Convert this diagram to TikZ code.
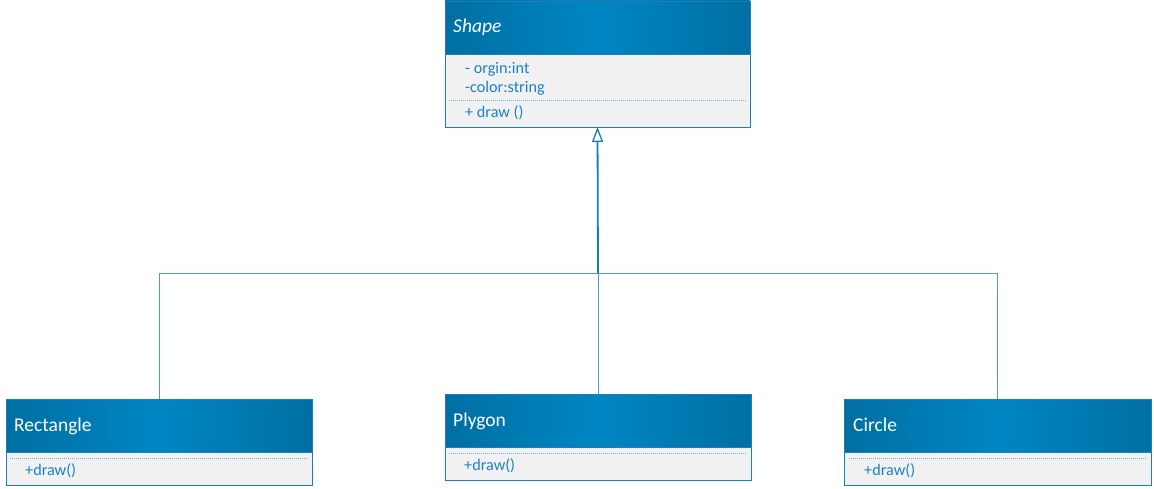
\documentclass[tikz,border=0pt]{standalone}
\usepackage{fontspec}
\setmainfont{Carlito}
\usetikzlibrary{arrows.meta}
\definecolor{hdark}{HTML}{006FA3}
\definecolor{hmid}{HTML}{0086C2}
\definecolor{boxline}{HTML}{1E7FB8}
\definecolor{bodyfill}{HTML}{F1F1F1}
\definecolor{btxt}{HTML}{1A82C4}
\definecolor{sepc}{HTML}{6FB3DA}
\definecolor{conn}{HTML}{1A7DAE}
\definecolor{connl}{HTML}{4C9FCB}
\tikzset{
  hdr/.style={draw=boxline, line width=0.8pt, left color=hdark, right color=hdark, middle color=hmid, anchor=north west, inner sep=0pt, outer sep=0pt},
  bdy/.style={draw=boxline, line width=0.8pt, fill=bodyfill, anchor=north west, inner sep=0pt, outer sep=0pt},
  htext/.style={text=white, font=\fontsize{19.5}{23}\selectfont, anchor=base west, inner sep=0pt},
  btext/.style={text=btxt, font=\fontsize{16.2}{19}\selectfont, anchor=base west, inner sep=0pt},
  sepline/.style={draw=sepc, line width=0.8pt, dash pattern=on 1pt off 1pt},
  conline/.style={draw=connl, line width=1pt},
  trunk/.style={draw=conn, line width=1.8pt}
}
\begin{document}
\begin{tikzpicture}[x=1pt,y=-1pt]
\useasboundingbox (0,0) rectangle (1154,489);
% Shape
\node[bdy, minimum width=305pt, minimum height=73pt] (shapeB) at (445,54) {};
\node[hdr, minimum width=305pt, minimum height=53pt] (shapeH) at (445,1) {};
\node[htext, font=\fontsize{19.5}{23}\selectfont\itshape] (shapeT) at (453,33) {Shape};
\node[btext] (shapeA1) at (465,74) {- orgin:int};
\node[btext] (shapeA2) at (465,93) {-color:string};
\coordinate (shapeS1) at (449,100);
\coordinate (shapeS2) at (746,100);
\draw[sepline] (shapeS1) -- (shapeS2);
\node[btext] (shapeM) at (465,118) {+ draw ()};
% Rectangle
\node[bdy, minimum width=306pt, minimum height=33pt] (rectB) at (6,452) {};
\node[hdr, minimum width=306pt, minimum height=53pt] (rectH) at (6,399) {};
\node[htext] (rectT) at (14,431) {Rectangle};
\coordinate (rectS1) at (10,458);
\coordinate (rectS2) at (307,458);
\draw[sepline] (rectS1) -- (rectS2);
\node[btext] (rectM) at (25,475) {+draw()};
% Plygon
\node[bdy, minimum width=306pt, minimum height=33pt] (plyB) at (445,447) {};
\node[hdr, minimum width=306pt, minimum height=53pt] (plyH) at (445,394) {};
\node[htext] (plyT) at (453,426) {Plygon};
\coordinate (plyS1) at (449,453);
\coordinate (plyS2) at (747,453);
\draw[sepline] (plyS1) -- (plyS2);
\node[btext] (plyM) at (464,470) {+draw()};
% Circle
\node[bdy, minimum width=307pt, minimum height=33pt] (circB) at (844,452) {};
\node[hdr, minimum width=307pt, minimum height=53pt] (circH) at (844,399) {};
\node[htext] (circT) at (853,431) {Circle};
\coordinate (circS1) at (849,458);
\coordinate (circS2) at (1147,458);
\draw[sepline] (circS1) -- (circS2);
\node[btext] (circM) at (864,475) {+draw()};
% connectors
\coordinate (junc) at (598,273);
\draw[conline] (rectH.north) |- (junc);
\draw[conline] (circH.north) |- (junc);
\draw[conline] (plyH.north) -- (junc);
\draw[trunk, -{Triangle[open, length=15pt, width=11pt, line width=1.3pt]}] (junc) -- (shapeB.south);
\end{tikzpicture}
\end{document}
